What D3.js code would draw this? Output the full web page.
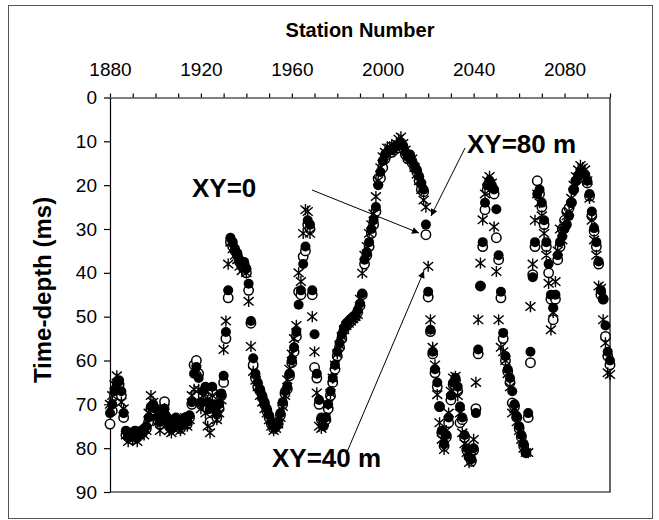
<!DOCTYPE html>
<html><head><meta charset="utf-8">
<script src="https://cdn.jsdelivr.net/npm/d3@7"></script>
<style>body{margin:0;background:#fff}svg{display:block}</style>
</head><body>
<script>
// Station numbers (one per station)
const stations = d3.range(1880, 2101);
// XY=80 m (filled circles)
const xy80 = [
72,70,67,65,64.5,67,72,76,77,76.5,
77.5,76,77,76.5,76,75.5,75,73,70.5,70,
71,73,74,72.5,71,73,74.5,75,74,73,
74.5,75,73.5,73,74,72.5,69.5,63,61.5,64,
69.5,67,66,69.5,71,66,70,72,70,67.5,
63.5,53.5,44,32,33,34.5,35.5,37,38,37.5,
39,42.5,51,59.5,63,65,66.5,68,69.5,71,
72.5,74,75,75,74,72,69.5,67,66,63,
60,57,53.5,47.3,44,38,34,28,29,44,
54,63,69,73,75,73,70,67,64,61,
58,56,54,52.5,51.5,51,50.5,50,49.5,48.5,
47,44.7,37,35.5,33,30,28,25,20,17,
14.5,13,12.5,12,12,11.5,11,11,10.5,11,
12.5,13.5,13,14.5,15.5,16.5,18,19.5,21,29,
44.3,53,58,62,65,70.5,76,79,77,73,
68,65,64,66,70.5,73,77,80,82,82.5,
80,72,57.5,43,33,24,20,19,20,21,
25.5,36,44.3,53.7,59,62,64,67,70,72.7,
75,77,79,81,72,58,41,33,22,21,
24,28,33,38,45,48,45,36,33,31.7,
30,29,27,24,21,19,18,17,17,17.5,
19,22,26,29.8,33,37.4,44,46,52,58,
60];
// XY=0 (open circles)
const xy0 = [
74.5,71.5,68,66,65.5,68,73,77,77.5,77,
78,76.5,77.5,77,76,76,75.5,74,71,70.5,
71.5,73.5,74.5,71,69.4,73,75,75.5,74.5,73.5,
75,75.5,74,73.5,74.5,73,70,61,60,63,
70,68,67,71,74,67,71,73,71,68,
65,55,45.7,33,34,35,36,37.5,38.5,38,
40,44,51.5,61,64,66,67,68.5,70,71.5,
73,74.5,75.5,75,74.5,72.5,70,67.5,66.5,63.5,
60.5,58,54.5,44.3,45,36.3,35,29,30,45,
61.6,64,70,73.5,74.5,73.5,71,68,65,62,
59,57,55,53,52,51.5,51,50.5,50,49,
47.5,45,38,36,34,31,29,26,18.5,18.4,
16,14,13,12.5,12.5,12,11.5,11.5,11,11.5,
13,14,13.5,15,16,17,19,21,21.5,31.3,
45.5,53.4,58.5,62.8,66,70.5,76.5,79.5,77.5,74.2,
69,65.5,64.5,67,74.2,73.5,77.5,80.5,82,83,
80.5,71,58.5,43,34,25.6,21,19.5,20.5,22,
32,37,45.7,55,60,62.5,65,69.7,70.5,73,
75.5,77.5,79.5,81,73,60.5,40.4,34,19,22,
25,29,34,40,46,50.7,46,37,34,30,
28,26,25.2,24,21,19,18.5,17.5,17.5,18,
19.5,22.5,27,30.5,34,38,45,46,54.5,59,
61];
// XY=40 m (asterisks)
const xy40 = [
70,68,65.5,63.5,66,69.5,71,77,78.5,77,
78,77.5,78.5,77,76.5,77,76,72,68,69.5,
72,74,76,73,71,74,76,76.5,75,74,
75.5,76,74,73,75,73.5,68,66.6,62,66.6,
71,68,72,75,76.5,68,72,73.5,72,69,
57.5,51,38,33,34.5,36,37,38.5,39.5,39,
40,46.5,56.8,62.5,64.5,66,68,69.5,71,72,
73.5,75,76,75.5,74.5,73,70.5,68,64.4,62,
58.5,55,52,40,42,31,25.6,26,31,50,
58,67.4,75,75.5,74,73,70,67.5,64,61,
58.5,56.5,54.5,53,52,51.5,51,50.5,50,49.5,
46,40.1,36,34,31,29,26.5,22.6,19,16,
13.5,12.5,11.5,11.5,11,11,10.5,9.5,9,10.5,
12,13,14,14,16,17.5,19,21,23.4,25,
38.5,50.7,57,61,67.8,74.2,78,80.3,76,72,
67,64,63.6,68,72,76.5,79,81,83.3,82,
78,65,50.7,37.8,27.9,22,19,18,19.5,29.5,
39.7,50.7,57,58,60,63,66,72,71,74,
76,78,80,81,81,47.7,38,28,22,24,
27,31,36,42.4,53,49,42,35,30,32.5,
29,27,26,23,20,18,16.5,15.5,16,16.5,
19,23,28,32.5,36,43,43.5,50.7,56,62.8,
63.2];
const xTicks = d3.range(1880, 2101, 10);
const xLabels = [1880, 1920, 1960, 2000, 2040, 2080];
const yTicks = [0,10,20,30,40,50,60,70,80,90];

const W = 659, H = 520;
const FONT = "'Liberation Sans', Arial, Helvetica, sans-serif";
const svg = d3.select('body').append('svg').attr('width', W).attr('height', H)
  .style('font-family', FONT);

// outer frame
svg.append('rect').attr('x', 8.5).attr('y', 5.5).attr('width', 644).attr('height', 513)
  .attr('fill', '#fff').attr('stroke', '#555').attr('stroke-width', 1);

const x = d3.scaleLinear().domain([1880, 2100]).range([110, 610]);
const y = d3.scaleLinear().domain([0, 90]).range([97.5, 492]);

// plot border (bottom + right)
svg.append('path')
  .attr('d', `M${x(1880)},${y(90)}H${x(2100)}V${y(0)}`)
  .attr('fill', 'none').attr('stroke', '#000').attr('stroke-width', 1.2);

// top axis
const gx = svg.append('g').attr('transform', `translate(0,${y(0)})`)
  .call(d3.axisTop(x).tickValues(xTicks).tickSize(4).tickSizeOuter(0).tickPadding(17.5)
    .tickFormat(d => xLabels.includes(d) ? String(d) : ''));
gx.selectAll('text').attr('font-size', 19).attr('font-family', FONT).attr('fill', '#000');
gx.selectAll('line,path').attr('stroke', '#000').attr('stroke-width', 1.2);

// left axis
const gy = svg.append('g').attr('transform', `translate(${x(1880)},0)`)
  .call(d3.axisLeft(y).tickValues(yTicks).tickSize(6).tickSizeOuter(0).tickPadding(7));
gy.selectAll('text').attr('font-size', 19).attr('font-family', FONT).attr('fill', '#000');
gy.selectAll('line,path').attr('stroke', '#000').attr('stroke-width', 1.2);

// titles
svg.append('text').attr('x', 360).attr('y', 37).attr('text-anchor', 'middle')
  .attr('font-weight', 'bold').attr('font-size', 20).text('Station Number');
svg.append('text').attr('transform', 'translate(51,290) rotate(-90)').attr('text-anchor', 'middle')
  .attr('font-weight', 'bold').attr('font-size', 24).text('Time-depth (ms)');

// data
const pts = (vals) => stations.map((s, i) => ({s, v: vals[i]})).filter(d => d.v != null);
const plot = svg.append('g');
plot.selectAll('circle.o').data(pts(xy0)).join('circle').attr('class', 'o')
  .attr('cx', d => x(d.s)).attr('cy', d => y(d.v)).attr('r', 4.7)
  .attr('fill', '#fff').attr('stroke', '#000').attr('stroke-width', 1.5);
const star = 'M0,-5.6V5.6M-5,-4.2L5,4.2M-5,4.2L5,-4.2';
plot.selectAll('path.a').data(pts(xy40)).join('path').attr('class', 'a')
  .attr('d', star).attr('transform', d => `translate(${x(d.s)},${y(d.v)})`)
  .attr('fill', 'none').attr('stroke', '#000').attr('stroke-width', 1.4);
plot.selectAll('circle.f').data(pts(xy80)).join('circle').attr('class', 'f')
  .attr('cx', d => x(d.s)).attr('cy', d => y(d.v)).attr('r', 5)
  .attr('fill', '#000');

// annotations
svg.append('defs').append('marker').attr('id', 'ah').attr('viewBox', '0 0 10 10')
  .attr('refX', 10).attr('refY', 5).attr('markerWidth', 9).attr('markerHeight', 7)
  .attr('markerUnits', 'userSpaceOnUse').attr('orient', 'auto')
  .append('path').attr('d', 'M0,0L10,5L0,10Z').attr('fill', '#000');
const arrows = [
  [312, 190, 419, 233],
  [465, 148, 431, 216],
  [347, 452, 424, 271]
];
svg.selectAll('line.arr').data(arrows).join('line').attr('class', 'arr')
  .attr('x1', d => d[0]).attr('y1', d => d[1]).attr('x2', d => d[2]).attr('y2', d => d[3])
  .attr('stroke', '#000').attr('stroke-width', 1).attr('marker-end', 'url(#ah)');
const labels = [
  {t: 'XY=0', x: 192, y: 197},
  {t: 'XY=80 m', x: 467, y: 153},
  {t: 'XY=40 m', x: 272, y: 467}
];
svg.selectAll('text.lab').data(labels).join('text').attr('class', 'lab')
  .attr('x', d => d.x).attr('y', d => d.y).attr('font-weight', 'bold').attr('font-size', 26)
  .text(d => d.t);
</script>
</body></html>
